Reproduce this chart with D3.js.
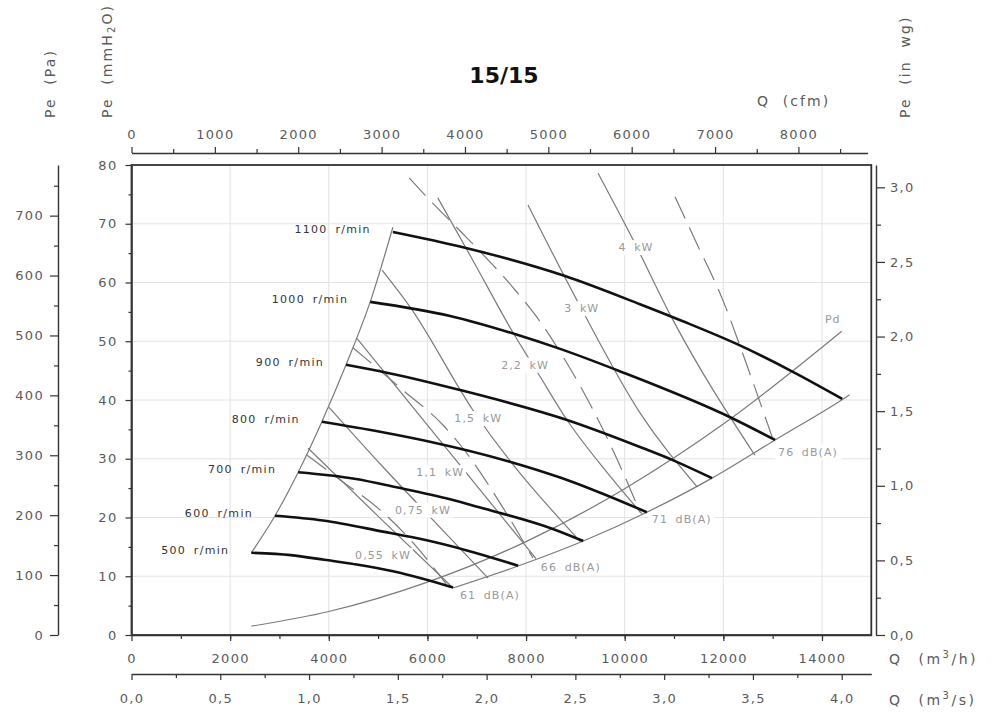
<!DOCTYPE html>
<html>
<head>
<meta charset="utf-8">
<script src="https://cdn.jsdelivr.net/npm/d3@7"></script>
<style>
body { margin: 0; background: #fff; }
text { font-family: "DejaVu Sans", sans-serif; }
</style>
</head>
<body>
<svg id="chart" width="998" height="720"></svg>
<script>
// fan curves, [Q m3/h, Pe mmH2O]
const curve500 = [[2430, 14.0], [3230, 13.6], [3910, 12.8], [4780, 11.7], [5440, 10.6], [6110, 9.1], [6520, 8.1]];
const curve600 = [[2910, 20.3], [3880, 19.5], [5100, 17.6], [5940, 16.2], [6800, 14.4], [7840, 11.8]];
const curve700 = [[3380, 27.7], [4520, 26.6], [5400, 25.1], [6460, 23.1], [7070, 21.7], [8530, 18.1], [9160, 16.0]];
const curve800 = [[3860, 36.3], [5040, 34.6], [6050, 32.9], [7670, 29.5], [8690, 26.8], [9300, 24.9], [10450, 20.9]];
const curve900 = [[4350, 46.0], [5040, 44.9], [6660, 41.7], [8830, 36.6], [10310, 32.0], [11020, 29.6], [11770, 26.7]];
const curve1000 = [[4840, 56.7], [6460, 54.3], [7820, 51.1], [8690, 48.7], [9900, 44.9], [12180, 36.9], [13050, 33.2]];
const curve1100 = [[5300, 68.6], [6720, 66.0], [8790, 61.1], [10310, 56.3], [11180, 53.4], [12280, 49.5], [13410, 44.8], [14410, 40.2]];
const speeds = ["500", "600", "700", "800", "900", "1000", "1100"];

// boundary lines
const surgeLine = [[2430, 14.0], [2910, 20.3], [3380, 27.7], [3860, 36.3], [4350, 46.0], [4840, 56.7], [5300, 69.4]];
const soundLine = [[6520, 8.0], [7840, 11.75], [9160, 16.0], [10450, 20.9], [11770, 26.7], [13050, 33.2], [14470, 40.4], [14560, 40.9]];
const pdLine = [[2430, 1.5], [4000, 4.0], [6000, 9.0], [8000, 15.9], [10000, 24.9], [12000, 35.9], [14400, 51.7]];

// absorbed power lines
const kw055 = [[3580, 31.8], [5040, 19.9], [6520, 8.0]];
const kw075 = [[4000, 38.8], [5100, 28.6], [6110, 19.6], [7230, 9.7]];
const kw11 = [[4570, 50.5], [6380, 31.8], [8200, 13.0]];
const kw15 = [[5080, 62.1], [5650, 55.8], [6920, 38.3], [9100, 15.9]];
const kw22 = [[6210, 74.4], [6920, 63.8], [7740, 51.4], [8240, 44.6], [8830, 36.6], [9600, 28.1], [10350, 20.6]];
const kw3 = [[8040, 73.2], [9030, 57.0], [10310, 37.8], [11470, 25.2]];
const kw4 = [[9460, 78.6], [10150, 67.6], [10980, 53.6], [12640, 30.6]];

const dash1 = [[3560, 30.6], [4230, 26.4], [5040, 21.3], [5750, 15.3], [6380, 8.7]];
const dash2 = [[4490, 48.9], [5500, 41.7], [6320, 35.7], [6700, 32.0], [7470, 22.5], [8140, 13.1]];
const dash3 = [[5630, 77.8], [6050, 74.0], [6800, 67.6], [7740, 59.1], [8220, 54.1], [8790, 46.8], [9360, 38.3], [9970, 27.6], [10310, 20.9]];
const dash4 = [[11020, 74.6], [11430, 67.2], [11990, 57.0], [12440, 46.8], [12890, 36.1], [13010, 33.2]];

const kwNames = ["0,55 kW", "0,75 kW", "1,1 kW", "1,5 kW", "2,2 kW", "3 kW", "4 kW"];
const kwLabelAt = [[5100, 13.6], [5910, 21.3], [6260, 27.7], [7030, 36.9], [7980, 46.0], [9130, 55.6], [10230, 66.0]];
const dbNames = ["61 dB(A)", "66 dB(A)", "71 dB(A)", "76 dB(A)"];
const dbLabelAt = [[6660, 6.8], [8300, 11.6], [10550, 19.7], [13110, 31.2]];

// axis ticks
const flowTicks = [0, 2000, 4000, 6000, 8000, 10000, 12000, 14000];
const m3sTicks = [0, 0.5, 1.0, 1.5, 2.0, 2.5, 3.0, 3.5, 4.0];
const cfmTicks = [0, 1000, 2000, 3000, 4000, 5000, 6000, 7000, 8000];
const mmTicks = [0, 10, 20, 30, 40, 50, 60, 70, 80];
const paTicks = [0, 100, 200, 300, 400, 500, 600, 700];
const inwgTicks = [0, 0.5, 1.0, 1.5, 2.0, 2.5, 3.0];

const svg = d3.select("#chart");
const x = d3.scaleLinear().domain([0, 15000]).range([131.5, 871.3]);
const y = d3.scaleLinear().domain([0, 80]).range([635, 165]);
const xCfm = d3.scaleLinear().domain([0, 15000 / 1.699]).range([131.5, 867.5]);
const xM3s = d3.scaleLinear().domain([0, 15000 / 3600]).range(x.range());
const yPa = d3.scaleLinear().domain([0, 80 * 9.80665]).range(y.range());
const yIn = d3.scaleLinear().domain([0, 80 / 25.4]).range(y.range());

const comma = d => d.toFixed(1).replace(".", ",");
const plain = d3.format("d");

const styleAxis = (g, minor) => {
	g.select(".domain").attr("stroke", minor ? "none" : "#333").attr("stroke-width", 1.4);
	g.selectAll(".tick line").attr("stroke", "#333").attr("stroke-width", 1.2);
	g.selectAll(".tick text")
		.attr("fill", "#5a5a5a")
		.attr("font-size", 13)
		.attr("letter-spacing", 1.3)
		.attr("font-family", "DejaVu Sans");
};

// grid
const grid = svg.append("g").attr("stroke", "#e2e2e2").attr("stroke-width", 1);
grid.selectAll(".gx").data(flowTicks.slice(1)).join("line")
	.attr("x1", d => x(d)).attr("x2", d => x(d))
	.attr("y1", y(0)).attr("y2", y(80));
grid.selectAll(".gy").data(mmTicks.slice(1, -1)).join("line")
	.attr("y1", d => y(d)).attr("y2", d => y(d))
	.attr("x1", x(0)).attr("x2", x(15000));

// axes: bottom m3/h
svg.append("g").attr("transform", `translate(0,${y(0)})`)
	.call(d3.axisBottom(x).tickValues(d3.range(1000, 15000, 1000)).tickSize(4).tickFormat("").tickSizeOuter(0))
	.call(g => styleAxis(g, true));
svg.append("g").attr("transform", `translate(0,${y(0)})`)
	.call(d3.axisBottom(x).tickValues(flowTicks).tickSize(6).tickPadding(13).tickFormat(plain).tickSizeOuter(0))
	.call(g => styleAxis(g, false));

// bottom m3/s
svg.append("g").attr("transform", "translate(0,674)")
	.call(d3.axisBottom(xM3s).tickValues(d3.range(0.25, 4.2, 0.5)).tickSize(4).tickFormat("").tickSizeOuter(0))
	.call(g => styleAxis(g, true));
svg.append("g").attr("transform", "translate(0,674)")
	.call(d3.axisBottom(xM3s).tickValues(m3sTicks).tickSize(6).tickPadding(14).tickFormat(comma).tickSizeOuter(0))
	.call(g => styleAxis(g, false));

// top cfm
svg.append("g").attr("transform", "translate(0,153)")
	.call(d3.axisTop(xCfm).tickValues(d3.range(500, 8800, 1000)).tickSize(4).tickFormat("").tickSizeOuter(0))
	.call(g => styleAxis(g, true));
svg.append("g").attr("transform", "translate(0,153)")
	.call(d3.axisTop(xCfm).tickValues(cfmTicks).tickSize(6).tickPadding(8).tickFormat(plain).tickSizeOuter(0))
	.call(g => styleAxis(g, false));

// left mmH2O
svg.append("g").attr("transform", `translate(${x(0)},0)`)
	.call(d3.axisLeft(y).tickValues(d3.range(5, 80, 10)).tickSize(3).tickFormat("").tickSizeOuter(0))
	.call(g => styleAxis(g, true));
svg.append("g").attr("transform", `translate(${x(0)},0)`)
	.call(d3.axisLeft(y).tickValues(mmTicks).tickSize(6).tickPadding(8).tickFormat(plain).tickSizeOuter(0))
	.call(g => styleAxis(g, false));

// far left Pa
svg.append("g").attr("transform", "translate(58,0)")
	.call(d3.axisLeft(yPa).tickValues(d3.range(50, 780, 100)).tickSize(4).tickFormat("").tickSizeOuter(0))
	.call(g => styleAxis(g, true));
svg.append("g").attr("transform", "translate(58,0)")
	.call(d3.axisLeft(yPa).tickValues(paTicks).tickSize(8).tickPadding(6).tickFormat(plain).tickSizeOuter(0))
	.call(g => styleAxis(g, false));

// right in wg
svg.append("g").attr("transform", "translate(876,0)")
	.call(d3.axisRight(yIn).tickValues(d3.range(0.25, 3.1, 0.5)).tickSize(5).tickFormat("").tickSizeOuter(0))
	.call(g => styleAxis(g, true));
svg.append("g").attr("transform", "translate(876,0)")
	.call(d3.axisRight(yIn).tickValues(inwgTicks).tickSize(9).tickPadding(5).tickFormat(comma).tickSizeOuter(0))
	.call(g => styleAxis(g, false));

// frame
svg.append("rect")
	.attr("x", x(0)).attr("y", y(80))
	.attr("width", x(15000) - x(0)).attr("height", y(0) - y(80))
	.attr("fill", "none").attr("stroke", "#333").attr("stroke-width", 1.8);

const line = d3.line().x(d => x(d[0])).y(d => y(d[1])).curve(d3.curveMonotoneX);
const plot = svg.append("g").attr("fill", "none");

// thin grey lines
const thin = [surgeLine, soundLine, pdLine, kw055, kw075, kw11, kw15, kw22, kw3, kw4];
plot.selectAll(".thin").data(thin).join("path")
	.attr("d", line)
	.attr("stroke", "#7a7a7a").attr("stroke-width", 1.2);

const dashed = [dash1, dash2, dash3, dash4];
plot.selectAll(".dash").data(dashed).join("path")
	.attr("d", line)
	.attr("stroke", "#7a7a7a").attr("stroke-width", 1.2)
	.attr("stroke-dasharray", "24,10");

// fan speed curves
const curves = [curve500, curve600, curve700, curve800, curve900, curve1000, curve1100];
plot.selectAll(".fan").data(curves).join("path")
	.attr("d", line)
	.attr("stroke", "#111").attr("stroke-width", 2.6);

// labels
const addBg = (node, pad) => {
	const b = node.getBBox();
	d3.select(node.parentNode).insert("rect", () => node)
		.attr("x", b.x - pad).attr("y", b.y - 1)
		.attr("width", b.width + 2 * pad).attr("height", b.height + 2)
		.attr("fill", "#fff");
};

const labels = svg.append("g");
labels.selectAll(".rpm").data(curves).join("text")
	.attr("x", d => x(d[0][0]) - 22)
	.attr("y", d => y(d[0][1]) - 3)
	.attr("dy", "0.35em")
	.attr("text-anchor", "end")
	.attr("font-size", 11)
	.attr("letter-spacing", 1.3)
	.attr("word-spacing", 3)
	.attr("fill", "#333")
	.text((d, i) => `${speeds[i]} r/min`);

labels.selectAll(".kw").data(kwLabelAt).join("text")
	.attr("x", d => x(d[0])).attr("y", d => y(d[1]))
	.attr("dy", "0.35em")
	.attr("text-anchor", "middle")
	.attr("font-size", 11)
	.attr("letter-spacing", 1.1)
	.attr("word-spacing", 3)
	.attr("fill", "#999")
	.text((d, i) => kwNames[i])
	.each(function() { addBg(this, 2); });

labels.selectAll(".db").data(dbLabelAt).join("text")
	.attr("x", d => x(d[0])).attr("y", d => y(d[1]))
	.attr("dy", "0.35em")
	.attr("font-size", 11)
	.attr("letter-spacing", 1.1)
	.attr("word-spacing", 3)
	.attr("fill", "#999")
	.text((d, i) => dbNames[i])
	.each(function() { addBg(this, 3); });

labels.append("text")
	.attr("x", x(14060)).attr("y", y(53.7)).attr("dy", "0.35em")
	.attr("font-size", 11).attr("fill", "#999").attr("letter-spacing", 1)
	.text("Pd");

// titles
svg.append("text")
	.attr("x", 504).attr("y", 83)
	.attr("text-anchor", "middle")
	.attr("font-family", "Liberation Sans, Arial, sans-serif")
	.attr("font-weight", "bold")
	.attr("font-size", 22)
	.attr("fill", "#111")
	.text("15/15");

const axisTitle = (tx, ty, rot) => svg.append("text")
	.attr("transform", `translate(${tx},${ty})${rot ? " rotate(-90)" : ""}`)
	.attr("font-size", 14)
	.attr("letter-spacing", 2.1)
	.attr("word-spacing", 6)
	.attr("fill", "#5a5a5a");

axisTitle(55, 118, true).text("Pe (Pa)");
const mmT = axisTitle(112, 118, true);
mmT.append("tspan").text("Pe (mmH");
mmT.append("tspan").attr("font-size", 10).attr("dy", 3).text("2");
mmT.append("tspan").attr("dy", -3).text("O)");
axisTitle(910, 118, true).text("Pe (in wg)");
axisTitle(757, 106, false).text("Q (cfm)");

const q1 = axisTitle(889, 664, false).attr("letter-spacing", 2.5).attr("word-spacing", 9);
q1.append("tspan").text("Q (m");
q1.append("tspan").attr("font-size", 10).attr("dy", -6).text("3");
q1.append("tspan").attr("dy", 6).text("/h)");
const q2 = axisTitle(889, 705, false).attr("letter-spacing", 2.5).attr("word-spacing", 9);
q2.append("tspan").text("Q (m");
q2.append("tspan").attr("font-size", 10).attr("dy", -6).text("3");
q2.append("tspan").attr("dy", 6).text("/s)");
</script>
</body>
</html>
